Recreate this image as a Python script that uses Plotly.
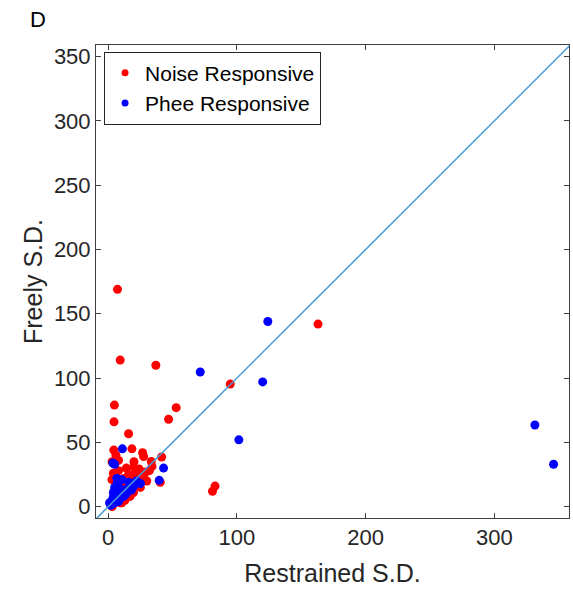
import plotly.graph_objects as go

# Noise Responsive (red)
noise_x = [7.2, 9.3, 37, 94.8, 163, 81, 83, 52.8, 46.9, 4.8, 4.5, 15.8, 4.3, 18.4, 26.7, 27.5,
           41.5, 33.4, 14, 19.7, 24, 34, 15.8, 26.2, 27.5, 40.4, 2.9, 4, 8, 12, 18, 22, 25, 30,
           10.6, 9.3, 14.5, 19.6, 16, 12, 6, 3, 8, 6, 20, 11, 21, 29, 3, 5, 13, 9, 17, 23, 32]
noise_y = [169, 114, 110, 95.3, 142, 12, 16, 77, 68, 79, 66, 56.7, 44, 45, 42, 39,
           38.6, 35.2, 30, 31, 29.3, 31.3, 25, 25, 23.5, 19, 21, 26, 28, 22, 20, 18, 15, 20,
           3, 3, 9.3, 11, 14, 12, 10, 35, 36, 40, 35, 18, 26, 27, 0, 5, 5, 17, 8, 22, 28]

# Phee Responsive (blue)
phee_x = [124, 71.5, 120, 101.5, 331.5, 346, 11, 3.6, 5, 43, 39.6, 6.7, 10.6, 19.7, 8, 7, 9,
          6, 4, 3, 1, 2, 5, 7, 9, 11, 13, 15, 17, 20, 10, 12, 5, 4, 8, 14, 18, 3, 6, 22, 25, 16]
phee_y = [144, 104.7, 97, 52, 63.5, 33, 45, 34, 33, 30, 20.5, 22, 21, 15.8, 20, 18, 14,
          12, 8, 5, 3, 1, 3, 6, 9, 11, 13, 14, 17, 18, 7, 8, 15, 11, 4, 10, 13, 2, 6, 20, 18, 19]

x_ticks = [0, 100, 200, 300]
y_ticks = [0, 50, 100, 150, 200, 250, 300, 350]
axis_range_x = [-9.5, 358]
axis_range_y = [-8.8, 359]
diag = [-20, 400]

FONT = "Liberation Sans, Arial"

fig = go.Figure()
fig.add_trace(go.Scatter(x=noise_x, y=noise_y, mode="markers", showlegend=False,
                         marker=dict(color="#FF0000", size=9, line=dict(width=0))))
fig.add_trace(go.Scatter(x=phee_x, y=phee_y, mode="markers", showlegend=False,
                         marker=dict(color="#0000FF", size=9, line=dict(width=0))))
fig.add_trace(go.Scatter(x=diag, y=diag, mode="lines", showlegend=False,
                         line=dict(color="rgb(70,155,215)", width=1.5)))
fig.add_trace(go.Scatter(x=[None], y=[None], mode="markers", name="Noise Responsive",
                         marker=dict(color="#FF0000", size=7)))
fig.add_trace(go.Scatter(x=[None], y=[None], mode="markers", name="Phee Responsive",
                         marker=dict(color="#0000FF", size=7)))

axis_common = dict(
    showline=True, linecolor="#404040", linewidth=1, mirror="ticks",
    ticks="inside", ticklen=5, tickcolor="#404040", showgrid=False, zeroline=False,
    tickfont=dict(family=FONT, size=22, color="#262626"),
)

fig.update_layout(
    width=573, height=593,
    margin=dict(l=96, r=4, t=45, b=75),
    paper_bgcolor="white", plot_bgcolor="white",
    xaxis=dict(range=axis_range_x, tickvals=x_ticks,
               title=dict(text="Restrained S.D.", standoff=15,
                          font=dict(family=FONT, size=25, color="#262626")),
               **axis_common),
    yaxis=dict(range=axis_range_y, tickvals=y_ticks,
               title=dict(text="Freely S.D.", standoff=4,
                          font=dict(family=FONT, size=25, color="#262626")),
               **axis_common),
    legend=dict(x=0.017, y=0.986, xanchor="left", yanchor="top",
                bordercolor="#262626", borderwidth=1, bgcolor="white",
                font=dict(family=FONT, size=21, color="#000000")),
)
fig.add_annotation(text="D", xref="paper", yref="paper", x=-(96 - 38) / 473, y=1 + (45 - 19) / 473,
                   xanchor="center", yanchor="middle", showarrow=False,
                   font=dict(family=FONT, size=22, color="#000000"))

fig.write_html("out.html")
